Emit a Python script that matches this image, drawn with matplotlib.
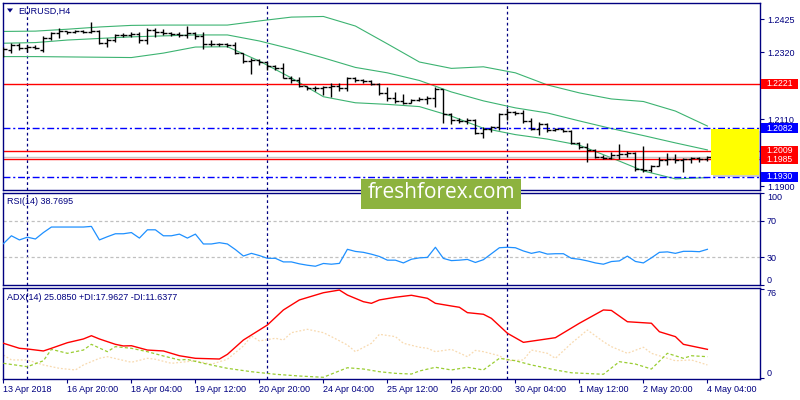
import matplotlib
matplotlib.use("Agg")
import matplotlib.pyplot as plt
from matplotlib.patches import Rectangle, Polygon
from matplotlib.transforms import blended_transform_factory, offset_copy

plt.rcParams['font.family'] = ['Liberation Sans', 'DejaVu Sans']

# ---- EURUSD H4 bars (13 Apr 2018 12:00 .. 4 May 2018 04:00) ----
opens = [1.2312, 1.2328, 1.2343, 1.2334, 1.2337, 1.2328, 1.2365, 1.2381, 1.2387, 1.2384,
         1.2386, 1.2384, 1.2387, 1.2350, 1.2359, 1.2375, 1.2376, 1.2378, 1.2359, 1.2390,
         1.2384, 1.2380, 1.2378, 1.2375, 1.2381, 1.2372, 1.2347, 1.2348, 1.2347, 1.2343,
         1.2318, 1.2292, 1.2296, 1.2290, 1.2277, 1.2271, 1.2241, 1.2233, 1.2215, 1.2207,
         1.2208, 1.2211, 1.2215, 1.2208, 1.2240, 1.2233, 1.2230, 1.2221, 1.2193, 1.2177,
         1.2168, 1.2161, 1.2171, 1.2174, 1.2177, 1.2205, 1.2127, 1.2108, 1.2105, 1.2108,
         1.2067, 1.2080, 1.2086, 1.2127, 1.2133, 1.2130, 1.2105, 1.2080, 1.2095, 1.2077,
         1.2080, 1.2073, 1.2036, 1.2023, 1.2014, 1.1992, 1.1989, 1.1998, 1.2001, 1.2004,
         1.1954, 1.1951, 1.1963, 1.1982, 1.1985, 1.1982, 1.1985, 1.1989, 1.1985]
highs = [1.2338, 1.2350, 1.2350, 1.2343, 1.2343, 1.2372, 1.2385, 1.2396, 1.2388, 1.2389,
         1.2389, 1.2415, 1.2390, 1.2364, 1.2378, 1.2380, 1.2383, 1.2385, 1.2396, 1.2398,
         1.2393, 1.2385, 1.2385, 1.2403, 1.2385, 1.2385, 1.2359, 1.2351, 1.2351, 1.2354,
         1.2318, 1.2302, 1.2299, 1.2291, 1.2281, 1.2288, 1.2246, 1.2244, 1.2215, 1.2215,
         1.2215, 1.2223, 1.2223, 1.2244, 1.2242, 1.2236, 1.2233, 1.2223, 1.2212, 1.2197,
         1.2190, 1.2174, 1.2181, 1.2183, 1.2212, 1.2206, 1.2131, 1.2113, 1.2113, 1.2110,
         1.2085, 1.2089, 1.2131, 1.2145, 1.2137, 1.2139, 1.2113, 1.2103, 1.2099, 1.2082,
         1.2081, 1.2075, 1.2040, 1.2035, 1.2016, 1.1998, 1.2008, 1.2033, 1.2011, 1.2008,
         1.2026, 1.1967, 1.1991, 1.2005, 1.2001, 1.1988, 1.1991, 1.1991, 1.1995]
lows = [1.2307, 1.2318, 1.2328, 1.2321, 1.2331, 1.2321, 1.2359, 1.2364, 1.2378, 1.2380,
        1.2380, 1.2380, 1.2347, 1.2336, 1.2354, 1.2369, 1.2368, 1.2351, 1.2347, 1.2369,
        1.2375, 1.2372, 1.2369, 1.2364, 1.2361, 1.2330, 1.2340, 1.2340, 1.2338, 1.2315,
        1.2288, 1.2252, 1.2281, 1.2265, 1.2265, 1.2239, 1.2225, 1.2211, 1.2202, 1.2200,
        1.2186, 1.2181, 1.2200, 1.2200, 1.2228, 1.2225, 1.2218, 1.2186, 1.2169, 1.2160,
        1.2158, 1.2160, 1.2166, 1.2158, 1.2148, 1.2098, 1.2095, 1.2098, 1.2095, 1.2064,
        1.2052, 1.2071, 1.2077, 1.2108, 1.2124, 1.2099, 1.2077, 1.2061, 1.2071, 1.2074,
        1.2069, 1.2032, 1.2016, 1.1977, 1.1988, 1.1984, 1.1984, 1.1984, 1.1993, 1.1949,
        1.1946, 1.1946, 1.1963, 1.1967, 1.1972, 1.1946, 1.1972, 1.1977, 1.1980]
closes = [1.2331, 1.2343, 1.2334, 1.2337, 1.2334, 1.2365, 1.2381, 1.2387, 1.2384, 1.2386,
          1.2384, 1.2387, 1.2350, 1.2359, 1.2375, 1.2376, 1.2378, 1.2359, 1.2390, 1.2384,
          1.2380, 1.2378, 1.2375, 1.2381, 1.2372, 1.2347, 1.2348, 1.2347, 1.2343, 1.2318,
          1.2292, 1.2296, 1.2290, 1.2277, 1.2271, 1.2241, 1.2233, 1.2215, 1.2207, 1.2208,
          1.2211, 1.2215, 1.2208, 1.2240, 1.2233, 1.2230, 1.2221, 1.2193, 1.2177, 1.2168,
          1.2161, 1.2171, 1.2174, 1.2177, 1.2205, 1.2127, 1.2108, 1.2105, 1.2108, 1.2067,
          1.2080, 1.2086, 1.2127, 1.2133, 1.2130, 1.2105, 1.2080, 1.2095, 1.2077, 1.2080,
          1.2073, 1.2036, 1.2023, 1.2014, 1.1992, 1.1989, 1.1998, 1.2001, 1.2004, 1.1954,
          1.1951, 1.1963, 1.1982, 1.1985, 1.1982, 1.1985, 1.1989, 1.1985, 1.1992]

# Bollinger bands, read every 4th bar
bb_bars = [0, 4, 8, 12, 16, 20, 24, 28, 32, 36, 40, 44, 48, 52, 56, 60, 64, 68, 72, 76, 80, 84, 88]
bb_upper = [1.2386, 1.2387, 1.2393, 1.2400, 1.2405, 1.2406, 1.2406, 1.2406, 1.2419, 1.2431, 1.2433, 1.2403,
            1.2347, 1.2290, 1.2270, 1.2275, 1.2256, 1.2218, 1.2193, 1.2174, 1.2166, 1.2136, 1.2089]
bb_middle = [1.2349, 1.2351, 1.2359, 1.2364, 1.2369, 1.2372, 1.2375, 1.2375, 1.2356, 1.2331, 1.2303, 1.2273,
             1.2256, 1.2232, 1.2196, 1.2168, 1.2146, 1.2130, 1.2105, 1.2081, 1.2059, 1.2036, 1.2014]
bb_lower = [1.2307, 1.2307, 1.2306, 1.2305, 1.2304, 1.2318, 1.2337, 1.2338, 1.2293, 1.2240, 1.2181, 1.2162,
            1.2157, 1.2150, 1.2120, 1.2082, 1.2062, 1.2048, 1.2029, 1.1989, 1.1948, 1.1923, 1.1927]

rsi = [45, 53.5, 49, 52, 50, 57, 63, 63, 63, 63, 63, 63.7, 49, 52.5, 55.7, 55.7, 57, 51, 60, 60,
       53.5, 53.5, 55.3, 51, 55.3, 44.6, 44.6, 46, 44.6, 38.5, 31.5, 34.4, 32, 29, 29, 25.1, 25.1, 23,
       21.5, 20.4, 23.4, 22.6, 23.5, 38.8, 36.5, 35.5, 33.5, 31, 27, 27, 24, 28, 29.5, 30, 41, 28.9,
       26.5, 27, 27.8, 24.5, 27.5, 34, 40.5, 41, 40.5, 37, 34.4, 36.2, 33.6, 34, 34, 29, 28, 26.2, 24,
       22.6, 25.5, 26.2, 31.4, 25.6, 24, 29.5, 35.5, 36, 34.4, 36.6, 36.6, 36.2, 38.8]

adx_bars = [0, 2, 3, 5, 6, 8, 10, 11, 12, 14, 15, 16, 18, 20, 22, 24, 27, 28, 30, 33, 35, 37, 40, 42, 43,
            45, 46, 47, 49, 51, 53, 54, 56, 57, 58, 60, 61, 63, 65, 67, 69, 72, 75, 76, 78, 81, 82, 84, 85, 88]
adx = [29.8, 25.5, 24.9, 23.2, 25.5, 30.3, 33.5, 36.3, 33.5, 28.9, 27.5, 27.7, 24, 23.2, 19.1, 16.9, 16.3,
       20.3, 32.6, 45.5, 58.4, 67, 73.2, 75.5, 71.2, 65.5, 64.1, 67, 69.3, 71, 68.4, 64.1, 61.8, 60.7, 56.1,
       54.7, 51.2, 38.4, 30.6, 32.6, 34.6, 47, 58.4, 58, 48.3, 47, 39.7, 35.5, 28.9, 24.6]
pdi_bars = [0, 3, 5, 6, 8, 10, 11, 13, 14, 16, 18, 20, 22, 23, 25, 28, 31, 34, 37, 40, 41, 43, 45, 47, 49,
            51, 52, 54, 56, 58, 60, 62, 64, 66, 69, 71, 75, 77, 79, 81, 83, 85, 86, 88]
pdi = [12.6, 9.7, 14.8, 24.6, 21.2, 24, 28.9, 22.6, 26.9, 25.5, 22.6, 18.9, 15.5, 15.9, 12.6, 8.3, 5.4, 3.2,
       1.7, 0.6, 3.4, 8.8, 7.7, 5.4, 4, 3.4, 6, 9.2, 6.9, 9.2, 6.9, 16.9, 14.8, 11.2, 6.9, 4.5, 3.2, 14, 12,
       7.7, 21.2, 16.9, 19.1, 18.3]
mdi_bars = [0, 1, 3, 5, 7, 9, 10, 12, 13, 16, 18, 19, 21, 24, 26, 28, 30, 31, 32, 34, 35, 36, 38, 40, 41,
            43, 44, 46, 47, 49, 50, 52, 53, 54, 56, 58, 59, 60, 62, 63, 65, 66, 68, 69, 71, 73, 75, 76, 78,
            80, 81, 83, 84, 86, 88]
mdi = [19.7, 15.5, 15.5, 11.2, 8.3, 6.9, 11.2, 16.9, 18.3, 13.5, 16.9, 16.1, 12.6, 14.8, 11.8, 16.1, 27.5,
       36, 31.8, 34.1, 32.6, 38.9, 41.8, 38.9, 35.5, 28.3, 22.6, 29.8, 37.5, 35.5, 29.8, 26.4, 25.5, 22.6,
       24.6, 18.3, 23.7, 22.6, 19.1, 14.8, 15.5, 24, 21.2, 16.9, 29.8, 41.2, 31.2, 26.9, 21.2, 26.4, 21.2,
       16.9, 14.8, 15.5, 11.2]

tick_bars = [0, 8, 16, 24, 32, 40, 48, 56, 64, 72, 80, 88]
tick_labels = ["13 Apr 2018", "16 Apr 20:00", "18 Apr 04:00", "19 Apr 12:00", "20 Apr 20:00",
               "24 Apr 04:00", "25 Apr 12:00", "26 Apr 20:00", "30 Apr 04:00", "1 May 12:00",
               "2 May 20:00", "4 May 04:00"]
week_starts = [3, 33, 63]
price_ticks = [1.2425, 1.2320, 1.2215, 1.2110, 1.2005, 1.1900]
hidden_ticks = [1.2215, 1.2005]   # covered by the level labels
red_levels = [1.2221, 1.1985, 1.2009]
blue_levels = [1.2082, 1.1930]
bid = 1.1992
zone_top, zone_bottom, zone_start = 1.2080, 1.1935, 88.45

NAVY = '#000080'
FS = 6.5

fig = plt.figure(figsize=(8, 4), dpi=100)
fig.patch.set_facecolor('white')
W, H = 800.0, 400.0
ax_p = fig.add_axes([3 / W, 1 - 190 / H, 757 / W, 187 / H])
ax_r = fig.add_axes([3 / W, 1 - 285 / H, 757 / W, 92 / H])
ax_a = fig.add_axes([3 / W, 1 - 379 / H, 757 / W, 91 / H])

xlim = (-0.05, -0.05 + 757 / 8)
for ax in (ax_p, ax_r, ax_a):
    ax.set_xlim(*xlim)
    for s in ax.spines.values():
        s.set_color(NAVY)
        s.set_linewidth(1.0)
    ax.yaxis.tick_right()
    ax.tick_params(axis='y', direction='out', length=3, pad=2, labelsize=FS, colors=NAVY)
    for b in week_starts:
        ax.axvline(b, color=NAVY, lw=0.9, ls=(0, (2.2, 2.2)), zorder=1)
ax_p.set_xticks([])
ax_r.set_xticks([])

# ---- price panel ----
ax_p.set_ylim(1.18881, 1.24753)
ax_p.set_yticks(price_ticks)
ax_p.set_yticklabels(["" if v in hidden_ticks else f"{v:.4f}" for v in price_ticks])

ax_p.plot(bb_bars, bb_upper, color='#3CB371', lw=0.8, zorder=2)
ax_p.plot(bb_bars, bb_middle, color='#3CB371', lw=0.8, zorder=2)
ax_p.plot(bb_bars, bb_lower, color='#3CB371', lw=0.8, zorder=2)

for lv in red_levels:
    ax_p.axhline(lv, color='#FF0000', lw=1.0, zorder=2)
ax_p.axhline(bid, color='#C8C8C8', lw=1.0, zorder=2)
for lv in blue_levels:
    ax_p.axhline(lv, color='#0000FF', lw=1.0, ls=(0, (5, 2, 1.5, 2)), zorder=2)

idx = list(range(len(closes)))
ax_p.vlines(idx, lows, highs, color='black', lw=1.0, zorder=3)
ax_p.hlines(opens, [i - 0.4 for i in idx], idx, color='black', lw=1.0, zorder=3)
ax_p.hlines(closes, idx, [i + 0.4 for i in idx], color='black', lw=1.0, zorder=3)

zone_w = xlim[1] - 0.15 - zone_start
ax_p.add_patch(Rectangle((zone_start + 0.3, zone_bottom - 0.0007), zone_w, zone_top - zone_bottom,
                         fc='#9A9A9A', ec='none', alpha=0.5, zorder=4))
ax_p.add_patch(Rectangle((zone_start, zone_bottom), zone_w, zone_top - zone_bottom,
                         fc='#FFFF00', ec='none', zorder=5))

# highlighted price labels on the right
tr = blended_transform_factory(fig.transFigure, ax_p.transData)
box_h = 0.0016
nudge = {1.2009: 0.8, 1.1985: -0.8}
for lv, col in [(blue_levels[0], '#0000FF'), (blue_levels[1], '#0000FF'),
                (red_levels[0], '#FF0000'), (red_levels[1], '#FF0000'), (red_levels[2], '#FF0000')]:
    fig.patches.append(Rectangle((761 / W, lv - box_h), 37 / W, 2 * box_h, transform=tr,
                                 fc=col, ec='none', zorder=10))
    ttr = offset_copy(tr, fig=fig, x=0, y=nudge.get(lv, 0), units='dots')
    fig.text(766 / W, lv, f"{lv:.4f}", transform=ttr, color='white', fontsize=6.2,
             va='center', ha='left', zorder=11)

fig.text(18 / W, 1 - 11 / H, "EURUSD,H4", color=NAVY, fontsize=FS, va='center', ha='left')
fig.patches.append(Polygon([[7 / W, 1 - 8.5 / H], [13 / W, 1 - 8.5 / H], [10 / W, 1 - 12.5 / H]],
                           closed=True, transform=fig.transFigure, fc=NAVY, ec='none'))

# ---- RSI panel ----
ax_r.set_ylim(0, 100)
ax_r.set_yticks([100, 70, 30, 0])
ax_r.set_yticklabels(['100', '70', '30', '0'])
labs = ax_r.get_yticklabels()
labs[0].set_va('top')
labs[3].set_va('bottom')
for lv in (70, 30):
    ax_r.axhline(lv, color='#C0C0C0', lw=0.9, ls=(0, (2.5, 2)), zorder=1)
ax_r.plot(range(len(rsi)), rsi, color='#1E90FF', lw=0.9, zorder=3)
fig.text(7 / W, 1 - 201.5 / H, "RSI(14) 38.7695", color=NAVY, fontsize=FS, va='center', ha='left')

# ---- ADX panel ----
ax_a.set_ylim(-0.86, 77.25)
ax_a.set_yticks([76, 0])
ax_a.set_yticklabels(['76', '0'])
labs = ax_a.get_yticklabels()
labs[0].set_va('top')
labs[1].set_va('bottom')
ax_a.plot(mdi_bars, mdi, color='#F8DAB0', lw=0.9, ls=(0, (1.5, 1.5)), zorder=2)
ax_a.plot(pdi_bars, pdi, color='#9ACD32', lw=0.9, ls=(0, (2.5, 1.8)), zorder=3)
ax_a.plot(adx_bars, adx, color='#FF0000', lw=1.0, zorder=4)
fig.text(7 / W, 1 - 297 / H, "ADX(14) 25.0850 +DI:17.9627 -DI:11.6377", color=NAVY, fontsize=FS,
         va='center', ha='left')

ax_a.set_xticks(tick_bars)
ax_a.set_xticklabels(tick_labels)
ax_a.tick_params(axis='x', direction='out', length=3, pad=1.5, labelsize=FS, colors=NAVY)
for lab in ax_a.get_xticklabels():
    lab.set_ha('left')

# watermark
fig.patches.append(Rectangle((361 / W, 1 - 208.5 / H), 160 / W, 29.5 / H, transform=fig.transFigure,
                             fc='#8DB33F', ec='none', zorder=12))
fig.text(441 / W, 1 - 193 / H, "freshforex.com", color='white', fontsize=15, family='Open Sans',
         ha='center', va='center', zorder=13)

fig.savefig('out.png', dpi=100)
